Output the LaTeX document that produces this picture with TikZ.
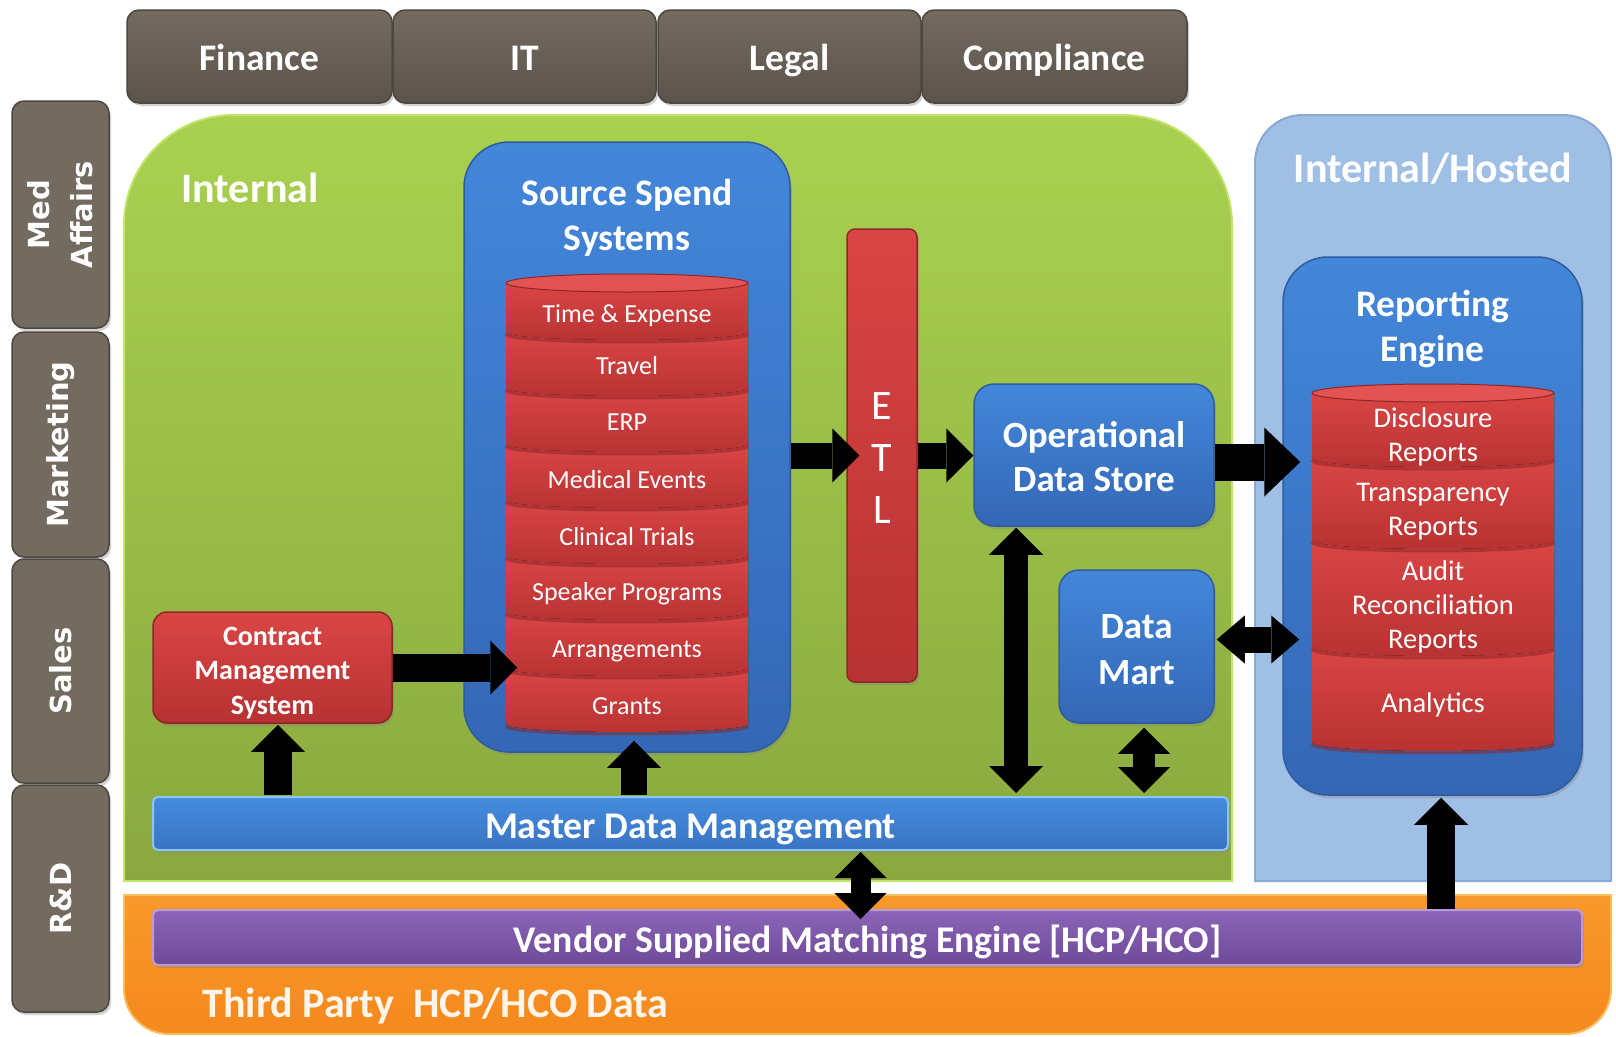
\documentclass[tikz,border=0pt]{standalone}
\usepackage{fontspec}
\setmainfont{Carlito}
\newfontfamily\dejavu{DejaVu Sans}
\usetikzlibrary{arrows.meta,calc,shadows}

\definecolor{deptTop}{HTML}{736A60}
\definecolor{deptBot}{HTML}{5C544B}
\definecolor{deptEdge}{HTML}{4E4740}
\definecolor{grnTop}{HTML}{A9D150}
\definecolor{grnBot}{HTML}{8AA83F}
\definecolor{grnEdge}{HTML}{C2E46A}
\definecolor{hostFill}{HTML}{9FBFE5}
\definecolor{hostEdge}{HTML}{88A9D5}
\definecolor{orgTop}{HTML}{F8982B}
\definecolor{orgBot}{HTML}{F5891D}
\definecolor{orgEdge}{HTML}{F9BF5E}
\definecolor{bluTop}{HTML}{4387DA}
\definecolor{bluBot}{HTML}{3467B5}
\definecolor{bluEdge}{HTML}{2E5C9E}
\definecolor{redTop}{HTML}{DA4545}
\definecolor{redBot}{HTML}{B73232}
\definecolor{redEdge}{HTML}{8E2626}
\definecolor{capRed}{HTML}{E45353}
\definecolor{purTop}{HTML}{8C64B8}
\definecolor{purBot}{HTML}{6D4B97}
\definecolor{purEdge}{HTML}{B99BDD}
\definecolor{mdmTop}{HTML}{448CDE}
\definecolor{mdmBot}{HTML}{3A74C2}
\definecolor{mdmEdge}{HTML}{8CC5F3}

\tikzset{
  softshadow/.style={drop shadow={shadow xshift=2pt,shadow yshift=-3pt,opacity=.35}},
  dept/.style={draw=deptEdge, line width=1.5pt, top color=deptTop, bottom color=deptBot,
    rounded corners=12pt, inner sep=0pt, softshadow},
  depttext/.style={text=white, anchor=base, inner sep=0pt, font=\bfseries\fontsize{37.5}{42}\selectfont},
  sidedept/.style={draw=deptEdge, line width=1.5pt, fill=deptTop,
    rounded corners=12pt, inner sep=0pt, text=white, rotate=90, align=center, softshadow,
    font=\dejavu\bfseries\fontsize{29}{43}\selectfont},
  bluebox/.style={draw=bluEdge, line width=1.5pt, top color=bluTop, bottom color=bluBot,
    inner sep=0pt, softshadow},
  redbox/.style={draw=redEdge, line width=1.5pt, top color=redTop, bottom color=redBot,
    inner sep=0pt, softshadow},
  title/.style={text=white, align=center, font=\bfseries\fontsize{37.5}{45}\selectfont},
  region/.style={text=white, font=\bfseries\fontsize{42}{48}\selectfont},
  stk/.style={text=white, align=center, font=\fontsize{26}{34}\selectfont},
  rstk/.style={text=white, align=center, font=\fontsize{28.5}{34}\selectfont},
  barrow/.style={draw=black, line width=#1},
  tipstd/.tip={Triangle[length=27pt,width=54pt,line width=0pt]},
  tipbig/.tip={Triangle[length=36pt,width=69pt,line width=0pt]},
  tipdm/.tip={Triangle[length=28pt,width=48pt,line width=0pt]},
  tipmid/.tip={Triangle[length=26pt,width=52pt,line width=0pt]},
}

% one drum of a stacked database: left x, right x, top y, bottom y, bulge
\newcommand\drumseg[5]{%
  \fill[top color=redTop, bottom color=redBot]
    (#1,#3) -- (#1,#4) .. controls (#1,#4+1.33*#5) and (#2,#4+1.33*#5) .. (#2,#4) -- (#2,#3) -- cycle;
  \draw[redEdge, line width=3pt, opacity=.55]
    (#1,#4+2) .. controls (#1,#4+2+1.33*#5) and (#2,#4+2+1.33*#5) .. (#2,#4+2);
}

\begin{document}
\begin{tikzpicture}[x=1pt,y=-1pt]
\useasboundingbox (0,0) rectangle (1616,1036);
\fill[white] (0,0) rectangle (1616,1036);

% ---- background regions ----
\fill[top color=orgTop, bottom color=orgBot, draw=orgEdge, line width=2pt]
  (124,895) -- (1611,895) -- (1611,989)
  .. controls (1611,1014) and (1591,1034) .. (1566,1034) -- (169,1034)
  .. controls (144,1034) and (124,1014) .. (124,989) -- cycle;
\node[region, anchor=west, text=white!92!orange] (third) at (199,1006) {Third Party\ \ HCP/HCO Data};

\fill[top color=grnTop, bottom color=grnBot, draw=grnEdge, line width=2pt]
  (124,881) -- (124,225) .. controls (124,164) and (173,115) .. (234,115)
  -- (1122,115) .. controls (1183,115) and (1232,164) .. (1232,225) -- (1232,881) -- cycle;
\node[region, anchor=west] (internal) at (178,188) {Internal};

\fill[hostFill, draw=hostEdge, line width=2pt]
  (1255,881) -- (1255,163) .. controls (1255,136) and (1276,115) .. (1303,115)
  -- (1563,115) .. controls (1590,115) and (1611,136) .. (1611,163) -- (1611,881) -- cycle;
\node[region] (hosted) at (1433,168.5) {Internal/Hosted};

% ---- departments ----
\node[dept, minimum width=265pt, minimum height=93pt] (fin) at (259.5,56.5) {};
\node[dept, minimum width=263pt, minimum height=93pt] (it) at (524.5,56.5) {};
\node[dept, minimum width=263pt, minimum height=93pt] (legal) at (789.5,56.5) {};
\node[dept, minimum width=265pt, minimum height=93pt] (comp) at (1054.5,56.5) {};
\node[depttext] (fintext) at ($(fin)+(0,13.5)$) {Finance};
\node[depttext] (ittext) at ($(it)+(0,13.5)$) {IT};
\node[depttext] (legaltext) at ($(legal)+(0,13.5)$) {Legal};
\node[depttext] (comptext) at ($(comp)+(0,13.5)$) {Compliance};

\node[sidedept, minimum width=227pt, minimum height=97pt] (med) at (60.5,214.5) {Med\\Affairs};
\node[sidedept, minimum width=225pt, minimum height=97pt] (mkt) at (60.5,444.5) {Marketing};
\node[sidedept, minimum width=224pt, minimum height=97pt] (sales) at (60.5,671) {Sales};
\node[sidedept, minimum width=227pt, minimum height=97pt] (rd) at (60.5,898.5) {R\&D};

% ---- internal systems ----
\node[bluebox, rounded corners=45pt, minimum width=326pt, minimum height=610pt] (src) at (627,447) {};
\node[title] (srctitle) at (627,218) {Source Spend\\Systems};

\foreach \t/\b in {668/724, 612/668, 556/612, 500/556, 444/500, 388/444, 332/388, 283/332}
  {\drumseg{506}{748}{\t}{\b}{8}}
\fill[capRed, draw=redEdge, line width=1pt] (627,283) ellipse [x radius=121, y radius=9];

\node[stk] (te) at (627,315.5) {Time \& Expense};
\node[stk] (travel) at (627,366) {Travel};
\node[stk] (erp) at (627,422) {ERP};
\node[stk] (medev) at (627,480) {Medical Events};
\node[stk] (clin) at (627,537) {Clinical Trials};
\node[stk] (spk) at (627,594) {Speaker Programs};
\node[stk] (arr) at (627,651) {Arrangements};
\node[stk] (grants) at (627,706) {Grants};

\node[redbox, rounded corners=8pt, minimum width=70pt, minimum height=453pt] (etl) at (882,455.5) {};
\node[text=white, align=center, font=\fontsize{42}{52}\selectfont] (etltext) at ($(etl)+(0,3)$) {E\\T\\L};

\node[bluebox, rounded corners=20pt, minimum width=240pt, minimum height=142pt] (ods) at (1094,455) {};
\node[title, font=\bfseries\fontsize{37}{44}\selectfont] (odstext) at ($(ods)+(0,2)$) {Operational\\Data Store};
\node[bluebox, rounded corners=20pt, minimum width=155pt, minimum height=153pt] (dm) at (1136.5,646.5) {};
\node[title, font=\bfseries\fontsize{37}{46}\selectfont] (dmtext) at ($(dm)+(0,3)$) {Data\\Mart};

\node[redbox, rounded corners=14pt, minimum width=239pt, minimum height=111pt] (cms) at (272.5,667.5) {};
\node[title, font=\bfseries\fontsize{28}{34.5}\selectfont] (cmstext) at ($(cms)+(0,5.5)$) {Contract\\Management\\System};

\node[draw=mdmEdge, line width=2pt, top color=mdmTop, bottom color=mdmBot, rounded corners=5pt,
  minimum width=1075pt, minimum height=53pt, inner sep=0pt, softshadow] (mdm) at (690.5,823.5) {};
\node[title, font=\bfseries\fontsize{37.7}{44}\selectfont] (mdmtext) at ($(mdm)+(0,6)$) {Master Data Management};

\node[draw=purEdge, line width=2pt, top color=purTop, bottom color=purBot, rounded corners=5pt,
  minimum width=1429pt, minimum height=55pt, inner sep=0pt, softshadow] (ven) at (867.5,937.5) {};
\node[title, font=\bfseries\fontsize{37.7}{44}\selectfont] (ventext) at ($(ven)+(0,4)$) {Vendor Supplied Matching Engine [HCP/HCO]};

% ---- reporting ----
\node[bluebox, rounded corners=45pt, minimum width=299pt, minimum height=538pt] (rep) at (1432.5,526) {};
\node[title] (reptitle) at (1432.5,328.5) {Reporting\\Engine};

\foreach \t/\b in {647/742, 540/647, 458/540, 393/458}
  {\drumseg{1312}{1554}{\t}{\b}{9}}
\fill[capRed, draw=redEdge, line width=1pt] (1433,393) ellipse [x radius=121, y radius=9];

\node[rstk] (disc) at (1433,436.5) {Disclosure\\Reports};
\node[rstk] (transp) at (1433,511.5) {Transparency\\Reports};
\node[rstk] (audit) at (1433,606.5) {Audit\\Reconciliation\\Reports};
\node[rstk] (anal) at (1433,704.5) {Analytics};

% ---- data flow arrows ----
\draw[barrow=26pt, -{tipstd}] (src.east |- etl.center) -- ([xshift=13pt]etl.west);
\draw[barrow=26pt, -{tipstd}] (etl.east) -- (ods.west |- etl.east);
\draw[barrow=37pt, -{tipbig}] ($(ods.east)+(0,7)$) -- ($(rep.west |- ods.east)+(18,7)$);
\draw[barrow=26pt, {tipdm}-{tipdm}] ($(dm.east)+(2,-7)$) -- ($(rep.west |- dm.east)+(17,-7)$);
\draw[barrow=24pt, {tipstd}-{tipstd}] ($(ods.south)+(-78,1)$) -- ($(ods.south |- mdm.north)+(-78,-3)$);
\draw[barrow=22pt, {tipmid}-{tipmid}] ($(dm.south)+(7.5,4)$) -- ($(dm.south |- mdm.north)+(7.5,-3)$);
\draw[barrow=28pt, -{tipstd}] (cms.east) -- ($(cms.east -| src.west)+(54,0)$);
\draw[barrow=28pt, -{tipstd}] ($(cms.south |- mdm.north)+(5.5,-1)$) -- ($(cms.south)+(5.5,1)$);
\draw[barrow=26pt, -{tipstd}] ($(src.south |- mdm.north)+(7,-1)$) -- ($(src.south)+(7,-12)$);
\draw[barrow=20pt, {tipmid}-{tipmid}] ($(mdm.south)+(170,1)$) -- ($(mdm.south |- ven.north)+(170,10)$);
\draw[barrow=28pt, -{tipstd}] ($(rep.south |- ven.north)+(8.5,0)$) -- ($(rep.south)+(8.5,2)$);
\end{tikzpicture}
\end{document}
